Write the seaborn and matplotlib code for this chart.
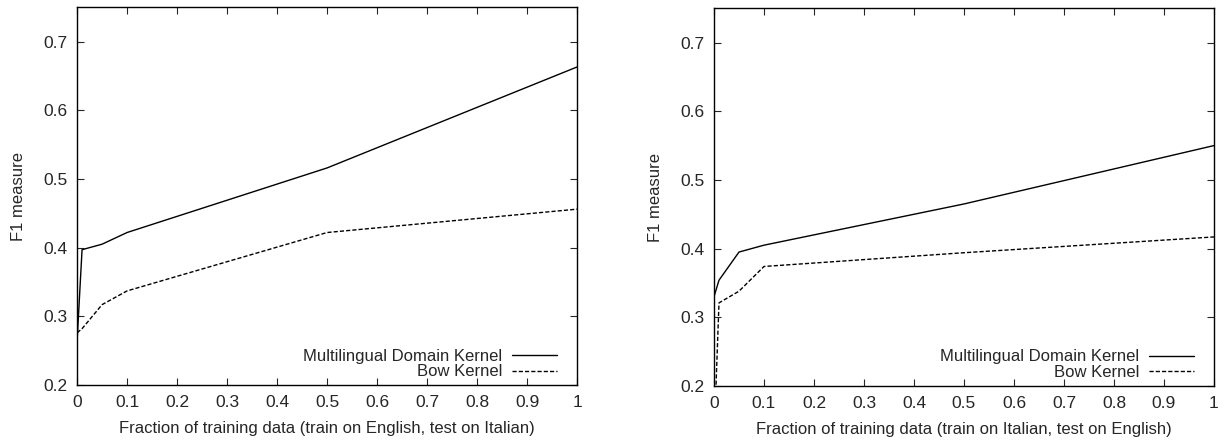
import numpy as np
import pandas as pd
import seaborn as sns
import matplotlib.pyplot as plt

frac = [0, 0.01, 0.05, 0.1, 0.5, 1.0]

# train on English, test on Italian
en_it_mdk = [0.263, 0.397, 0.405, 0.422, 0.516, 0.663]
en_it_bow = [0.276, 0.282, 0.317, 0.337, 0.422, 0.456]

# train on Italian, test on English
it_en_mdk = [0.330, 0.354, 0.395, 0.405, 0.465, 0.550]
it_en_bow = [0.120, 0.321, 0.338, 0.374, 0.394, 0.417]

series_names = ['Multilingual Domain Kernel', 'Bow Kernel']
xlabels = ['Fraction of training data (train on English, test on Italian)',
           'Fraction of training data (train on Italian, test on English)']

sns.set_style('ticks')
plt.rcParams['font.family'] = ['Liberation Sans', 'DejaVu Sans']

fig = plt.figure(figsize=(12.27, 4.45), dpi=100)
ax1 = fig.add_axes([0.0628, 0.1348, 0.4075, 0.849])
ax2 = fig.add_axes([0.5819, 0.1326, 0.4075, 0.849])

panels = [(ax1, en_it_mdk, en_it_bow, xlabels[0]),
          (ax2, it_en_mdk, it_en_bow, xlabels[1])]

for ax, mdk, bow, xl in panels:
    df = pd.DataFrame({
        'frac': frac * 2,
        'f1': mdk + bow,
        'kernel': [series_names[0]] * len(frac) + [series_names[1]] * len(frac),
    })
    sns.lineplot(data=df, x='frac', y='f1', style='kernel', ax=ax,
                 color='black', linewidth=1.0,
                 dashes={series_names[0]: '', series_names[1]: (3, 1.5)})
    ax.set_xlim(0, 1)
    ax.set_ylim(0.2, 0.75)
    ax.set_xticks(np.arange(0, 1.01, 0.1))
    ax.set_xticklabels(['0', '0.1', '0.2', '0.3', '0.4', '0.5', '0.6', '0.7', '0.8', '0.9', '1'])
    ax.set_yticks(np.arange(0.2, 0.71, 0.1))
    ax.set_yticklabels(['0.2', '0.3', '0.4', '0.5', '0.6', '0.7'])
    ax.tick_params(direction='in', top=True, right=True, labelsize=12.5, length=5, width=0.8, pad=7)
    for s in ax.spines.values():
        s.set_linewidth(1.0)
        s.set_color('black')
    ax.set_xlabel(xl, fontsize=12, labelpad=8)
    ax.set_ylabel('F1 measure', fontsize=12, labelpad=12)
    leg = ax.legend(loc='lower right', bbox_to_anchor=(0.96, 0.015), frameon=False,
                    markerfirst=False, fontsize=12, handlelength=2.7, handletextpad=0.6,
                    labelspacing=0.05, borderaxespad=0, borderpad=0)
    for t in leg.get_texts():
        t.set_ha('right')

fig.savefig('out.png', dpi=100)
